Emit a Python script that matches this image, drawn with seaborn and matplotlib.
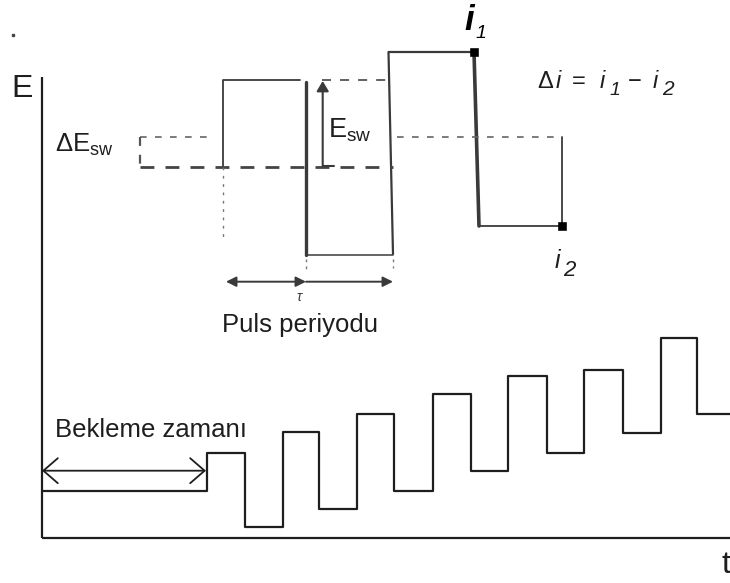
import numpy as np
import pandas as pd
import seaborn as sns
import matplotlib.pyplot as plt
from matplotlib.patches import FancyArrowPatch

sns.set_theme(style="white")
plt.rcParams['font.family'] = ['Liberation Sans', 'DejaVu Sans']
plt.rcParams['mathtext.fontset'] = 'custom'
plt.rcParams['mathtext.rm'] = 'Liberation Sans'
plt.rcParams['mathtext.it'] = 'Liberation Sans:italic'
plt.rcParams['mathtext.bf'] = 'Liberation Sans:bold'

# ---- data (schematic coordinates, y grows downward) ----
# lower square-wave staircase
step_t = [42, 206.7, 245, 282.7, 318.7, 356.7, 394.3, 432.7, 470.7, 508.3,
          546.7, 584.3, 622.7, 660.7, 696.7, 730]
step_E = [490.7, 452.7, 527, 432.3, 508.7, 414.3, 490.7, 394.3, 471, 376.3,
          452.7, 370.3, 432.7, 338.3, 414.3, 414.3]

# zoomed-in upper pulse detail
pulse_a_x = [222.7, 222.7, 300]
pulse_a_y = [167, 80, 80]
pulse_b_x = [306, 306]
pulse_b_y = [82, 255]
pulse_b2_x = [306, 393]
pulse_b2_y = [255, 255]
pulse_c_x = [393, 388.5, 474]
pulse_c_y = [254, 52, 52]
pulse_d_x = [474, 479]
pulse_d_y = [52, 226]
pulse_d2_x = [479, 561.7, 561.7]
pulse_d2_y = [226, 226, 137]

# current sampling points
sample_x = [474, 561.7]
sample_y = [52, 226]

df_steps = pd.DataFrame({'t': step_t, 'E': step_E})

fig = plt.figure(figsize=(7.3, 5.83), dpi=100)
ax = fig.add_axes([0, 0, 1, 1])
fig.patch.set_facecolor('white')

dark = '#1e1e1e'
gray = '#3a3a3a'

# axes of the schematic
ax.plot([42, 42], [77, 537.5], color=dark, lw=1.6, solid_capstyle='butt')
ax.plot([42, 730], [537.5, 537.5], color=dark, lw=1.6, solid_capstyle='butt')

# staircase via seaborn
sns.lineplot(data=df_steps, x='t', y='E', drawstyle='steps-post', sort=False,
             estimator=None, color=dark, lw=1.6, ax=ax)

# upper pulse detail
sns.lineplot(x=pulse_a_x, y=pulse_a_y, sort=False, estimator=None, color=gray, lw=1.3, ax=ax)
sns.lineplot(x=pulse_b_x, y=pulse_b_y, sort=False, estimator=None, color=gray, lw=2.4, ax=ax)
sns.lineplot(x=pulse_b2_x, y=pulse_b2_y, sort=False, estimator=None, color=gray, lw=1.1, ax=ax)
sns.lineplot(x=pulse_c_x, y=pulse_c_y, sort=False, estimator=None, color=gray, lw=1.6, ax=ax)
sns.lineplot(x=pulse_d_x, y=pulse_d_y, sort=False, estimator=None, color=gray, lw=2.6, ax=ax)
sns.lineplot(x=pulse_d2_x, y=pulse_d2_y, sort=False, estimator=None, color=gray, lw=1.3, ax=ax)
sns.scatterplot(x=sample_x, y=sample_y, marker='s', s=30, color='black', edgecolor='black', ax=ax, zorder=5)

ax.set_xlim(0, 730)
ax.set_ylim(583, 0)
ax.axis('off')

# dashed guides
ax.plot([140, 213], [137, 137], ls=(0, (4, 5)), color='#666666', lw=1.2)
ax.plot([397, 561], [137, 137], ls=(0, (4, 5)), color='#666666', lw=1.2)
ax.plot([140, 393], [167, 167], ls=(0, (5, 4)), color='#444444', lw=2.0)
ax.plot([140, 140], [137, 167], ls=(0, (4, 4)), color='#555555', lw=1.6)
ax.plot([322, 386], [80, 80], ls=(0, (5, 5)), color='#555555', lw=1.3)
ax.plot([222.7, 222.7], [167, 237], ls=(0, (2, 4)), color='#777777', lw=1.0)
ax.plot([306, 306], [259, 272], ls=(0, (2, 3)), color='#777777', lw=1.0)
ax.plot([393, 393], [259, 268], ls=(0, (2, 3)), color='#777777', lw=1.0)

# E_sw arrow
ax.add_patch(FancyArrowPatch((322.7, 166), (322.7, 81), arrowstyle='-|>,head_length=0.5,head_width=0.3',
                             mutation_scale=12, color=gray, lw=1.5, shrinkA=0, shrinkB=0))
ax.plot([322.7, 334], [166, 166], color=gray, lw=1.5)

# pulse period arrows
ax.add_patch(FancyArrowPatch((226, 281.7), (306, 281.7), arrowstyle='<|-|>,head_length=0.6,head_width=0.3',
                             mutation_scale=10, color=gray, lw=1.4, shrinkA=0, shrinkB=0))
ax.add_patch(FancyArrowPatch((306, 281.7), (393, 281.7), arrowstyle='-|>,head_length=0.6,head_width=0.3',
                             mutation_scale=10, color=gray, lw=1.4, shrinkA=0, shrinkB=0))

# waiting-time arrow
ax.add_patch(FancyArrowPatch((42, 470.7), (206, 470.7), arrowstyle='<->,head_length=0.52,head_width=0.45',
                             mutation_scale=20, color=dark, lw=1.3, shrinkA=0, shrinkB=0))

# texts
ax.plot([13], [35], marker='s', ms=1.5, color='#444444')
ax.text(11, 89, 'E', fontsize=23, ha='left', va='center', color=dark)
ax.text(722, 565, 't', fontsize=23, ha='left', va='center', color=dark)
ax.text(55, 152, r'$\Delta$E$_{\mathrm{sw}}$', fontsize=18.5, ha='left', va='baseline', color=dark)
ax.text(328, 137, r'E$_{\mathrm{sw}}$', fontsize=19.5, ha='left', va='baseline', color=dark)

# i1 label
ax.text(464, 30, 'i', fontsize=25, fontweight='bold', fontstyle='italic', ha='left', va='baseline', color='black')
ax.text(475, 38, '1', fontsize=14, fontstyle='italic', ha='left', va='baseline', color='black')

# Δi = i1 − i2
fs = 17
ax.text(537, 88, 'Δ', fontsize=fs, ha='left', va='baseline', color=dark)
ax.text(556, 88, 'i', fontsize=fs, fontstyle='italic', ha='left', va='baseline', color=dark)
ax.text(572, 88, '=', fontsize=fs, ha='left', va='baseline', color=dark)
ax.text(600, 88, 'i', fontsize=fs, fontstyle='italic', ha='left', va='baseline', color=dark)
ax.text(610, 95, '1', fontsize=14, fontstyle='italic', ha='left', va='baseline', color=dark)
ax.text(628, 88, '−', fontsize=fs, ha='left', va='baseline', color=dark)
ax.text(653, 88, 'i', fontsize=fs, fontstyle='italic', ha='left', va='baseline', color=dark)
ax.text(662, 95, '2', fontsize=15, fontstyle='italic', ha='left', va='baseline', color=dark)

# i2 label
ax.text(555, 268, 'i', fontsize=18, fontstyle='italic', ha='left', va='baseline', color=dark)
ax.text(563, 276, '2', fontsize=16, fontstyle='italic', ha='left', va='baseline', color=dark)

ax.text(300, 297, r'$\tau$', fontsize=10, ha='center', va='center', color=gray)
ax.text(222, 325, 'Puls periyodu', fontsize=18.5, ha='left', va='center', color=dark)
ax.text(55, 430, 'Bekleme zamanı', fontsize=18.5, ha='left', va='center', color=dark)

fig.savefig('out.png', dpi=100)
